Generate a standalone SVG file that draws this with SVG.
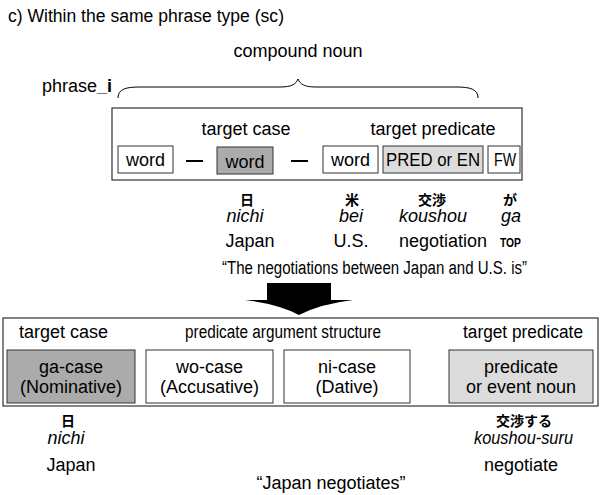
<svg xmlns="http://www.w3.org/2000/svg" width="600" height="495" viewBox="0 0 600 495">
<style>
text{font-family:"Liberation Sans",Arial,"Noto Sans CJK JP",sans-serif;font-size:18px;fill:#000}
.c{text-anchor:middle}
.it{font-style:italic}
.jp{font-family:"Noto Sans CJK JP","Liberation Sans",sans-serif;font-size:14px;font-weight:bold}
.frame{fill:#fff;stroke:#333;stroke-width:1.2}
.box{fill:#fff;stroke:#333;stroke-width:1}
.dark{fill:#ababab;stroke:#333;stroke-width:1}
.light{fill:#dcdcdc;stroke:#333;stroke-width:1}
.dash{stroke:#000;stroke-width:2}
</style>
<rect width="600" height="495" fill="#fff"/>
<text x="8" y="22" textLength="276" lengthAdjust="spacingAndGlyphs">c) Within the same phrase type (sc)</text>
<text class="c" x="298" y="57">compound noun</text>
<text x="42" y="92">phrase<tspan font-weight="bold">_i</tspan></text>
<path d="M118,98 C118,89 126,87 140,87 L280,87 C292,87 296,84 298,79 C300,84 304,87 316,87 L456,87 C470,87 478,89 478,98" fill="none" stroke="#000" stroke-width="1"/>

<g id="phrase">
<rect class="frame" x="112" y="108" width="410" height="72"/>
<text class="c" x="246" y="135">target case</text>
<text class="c" x="433" y="135">target predicate</text>
</g>
<g id="w1"><rect class="box" x="118" y="146" width="55" height="27"/><text class="c" x="145.5" y="166">word</text></g>
<g id="w2"><rect class="dark" x="217" y="147" width="56" height="27"/><text class="c" x="245" y="168">word</text></g>
<g id="w3"><rect class="box" x="323" y="146" width="55" height="27"/><text class="c" x="350.5" y="166">word</text></g>
<g id="pred"><rect class="light" x="383" y="146" width="100" height="27"/><text x="386" y="166" textLength="94" lengthAdjust="spacingAndGlyphs">PRED or EN</text></g>
<g id="fw"><rect class="box" x="488" y="146" width="32" height="27"/><text x="494" y="166" textLength="22" lengthAdjust="spacingAndGlyphs">FW</text></g>
<g id="connectors">
<line class="dash" x1="186" y1="161" x2="203" y2="161"/>
<line class="dash" x1="291" y1="161" x2="308" y2="161"/>
</g>

<g id="gloss1">
<text class="jp c" x="247" y="205">日</text>
<text class="c it" x="245" y="222">nichi</text>
<text class="c" x="250" y="247">Japan</text>
<text class="jp c" x="352" y="205">米</text>
<text class="c it" x="351" y="222">bei</text>
<text class="c" x="351" y="247">U.S.</text>
<text class="jp c" x="432" y="205">交渉</text>
<text class="c it" x="433" y="222">koushou</text>
<text class="c" x="443" y="247">negotiation</text>
<text class="jp c" x="510" y="205">が</text>
<text class="c it" x="511" y="222">ga</text>
<text x="500" y="247" style="font-size:12px;font-weight:bold" textLength="21" lengthAdjust="spacingAndGlyphs">TOP</text>
<text x="222" y="274" textLength="305" lengthAdjust="spacingAndGlyphs">“The negotiations between Japan and U.S. is”</text>
</g>

<g id="arrow">
<path d="M267,283 L331,283 L331,300 L353,300 Q320,304 299,315 Q278,304 245,300 L267,300 Z" fill="#000"/>
</g>

<g id="pas">
<rect class="frame" x="3" y="318" width="595" height="88"/>
<text x="19" y="338">target case</text>
<text x="185" y="338" textLength="196" lengthAdjust="spacingAndGlyphs">predicate argument structure</text>
<text x="463" y="338" textLength="120" lengthAdjust="spacingAndGlyphs">target predicate</text>
</g>
<g id="ga"><rect class="dark" x="7" y="350" width="128" height="53"/><text class="c" x="71" y="373">ga-case</text><text class="c" x="71" y="393">(Nominative)</text></g>
<g id="wo"><rect class="box" x="146" y="350" width="127" height="53"/><text class="c" x="209.5" y="373">wo-case</text><text class="c" x="209.5" y="393">(Accusative)</text></g>
<g id="ni"><rect class="box" x="284" y="350" width="126" height="53"/><text class="c" x="347" y="373">ni-case</text><text class="c" x="347" y="393">(Dative)</text></g>
<g id="pen"><rect class="light" x="449" y="350" width="144" height="53"/><text class="c" x="521" y="373">predicate</text><text class="c" x="521" y="393">or event noun</text></g>

<g id="gloss2">
<text class="jp c" x="68" y="426">日</text>
<text class="c it" x="66" y="444">nichi</text>
<text class="c" x="71" y="471">Japan</text>
<text class="jp c" x="524" y="426">交渉する</text>
<text x="474" y="444" class="it" textLength="99" lengthAdjust="spacingAndGlyphs">koushou-suru</text>
<text class="c" x="521" y="471">negotiate</text>
<text class="c" x="331" y="489">“Japan negotiates”</text>
</g>
</svg>
